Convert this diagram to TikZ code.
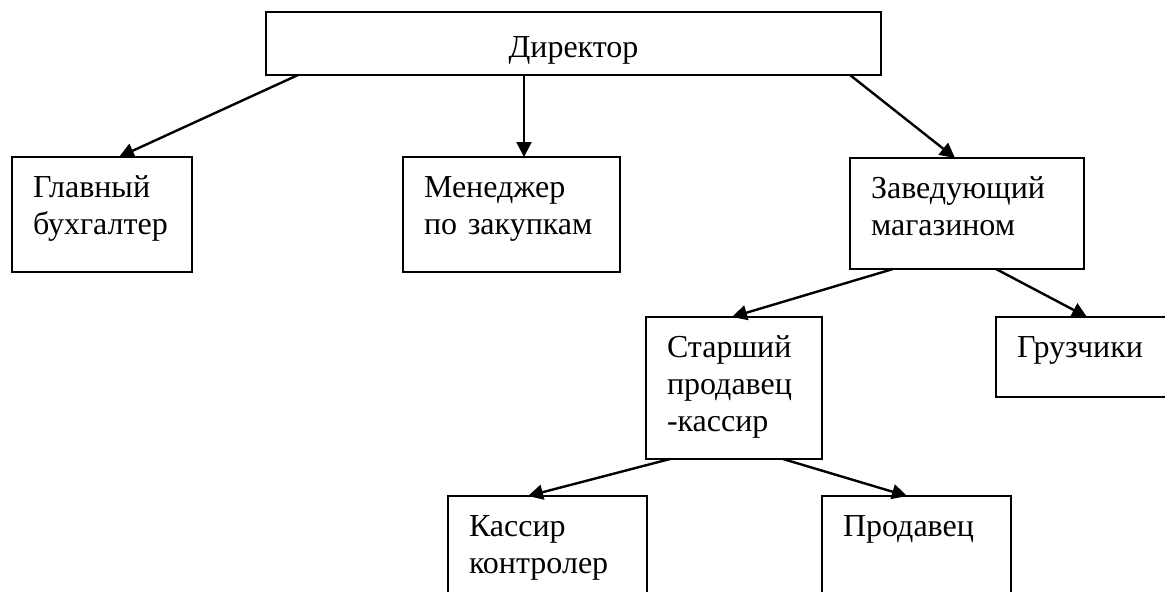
\documentclass[tikz,border=0pt]{standalone}
\usepackage{fontspec}
\setmainfont{Liberation Serif}
\usetikzlibrary{arrows.meta}
\newcommand{\pf}{\fontsize{16pt}{18.5pt}\selectfont}

\begin{document}
\begin{tikzpicture}[x=0.5pt,y=-0.5pt,
   post/.style={draw,line width=0.9pt,anchor=north west,align=left,inner xsep=10.5pt,
      inner ysep=0pt,outer sep=0pt,text height=20pt,font=\pf},
   link/.style={line width=1.2pt,-{Triangle[length=7.5pt,width=7.5pt]}}]
   \path[use as bounding box,clip] (0,0) rectangle (1165,591);
   \node[post,align=center,text width=286.5pt,text height=22.5pt,text depth=9pt] (dir) at (266,12) {Директор};
   \node[post,text width=69pt,text depth=37.5pt] (buh) at (12,157) {Главный\\бухгалтер};
   \node[post,text width=87.5pt,text depth=37.5pt] (men) at (403,157) {Менеджер\\по~закупкам};
   \node[post,text width=96pt,text depth=35.5pt] (zav) at (850,158) {Заведующий\\магазином};
   \node[post,text width=67pt,text depth=51pt] (star) at (646,317) {Старший\\продавец\\-кассир};
   \node[post,text width=89pt,text depth=20pt] (gruz) at (996,317) {Грузчики};
   \node[post,text width=78.5pt,text depth=50pt] (kas) at (448,496) {Кассир\\контролер};
   \node[post,text width=73.5pt,text depth=50pt] (prod) at (822,496) {Продавец};
   \draw[link] ([xshift=16pt]dir.south west) -- ([xshift=8.5pt]buh.north);
   \draw[link] ([xshift=-24.75pt]dir.south) -- ([xshift=6.25pt]men.north);
   \draw[link] ([xshift=-15.5pt]dir.south east) -- ([xshift=-6pt]zav.north);
   \draw[link] ([xshift=-37pt]zav.south) -- ([xshift=-1pt]star.north);
   \draw[link] ([xshift=14.5pt]zav.south) -- ([xshift=45.5pt]gruz.north west);
   \draw[link] ([xshift=-32pt]star.south) -- ([xshift=40pt]kas.north west);
   \draw[link] ([xshift=24.5pt]star.south) -- ([xshift=42.5pt]prod.north west);
\end{tikzpicture}
\end{document}
